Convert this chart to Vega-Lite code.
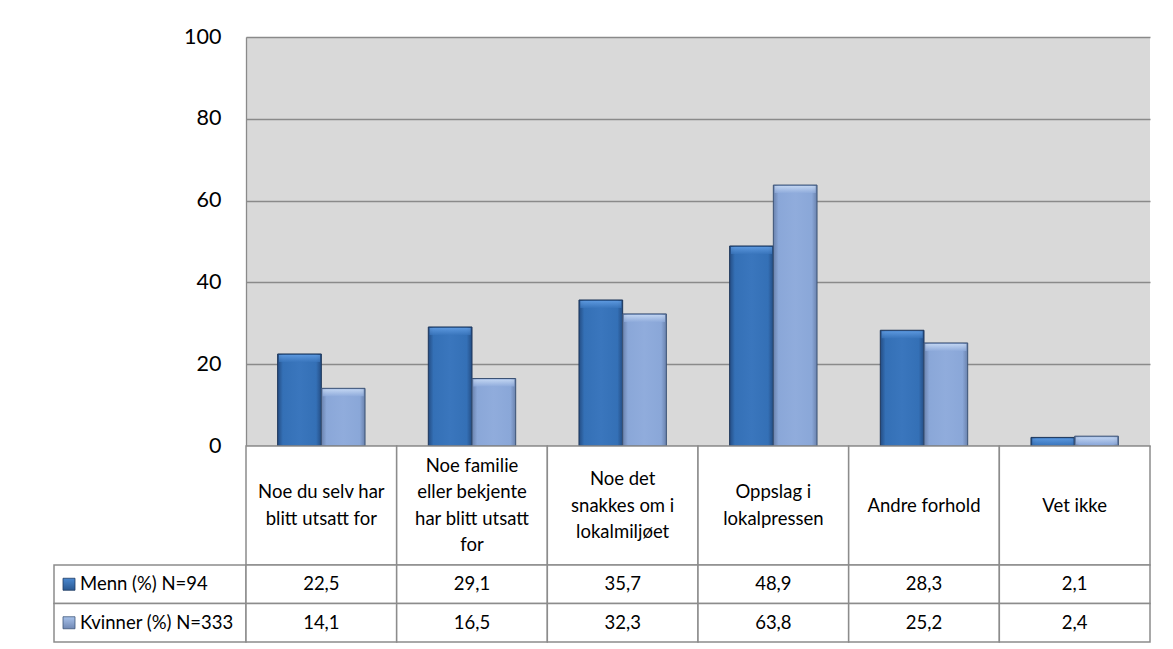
{
  "$schema": "https://vega.github.io/schema/vega-lite/v6.json",
  "background": "white",
  "padding": {"left": 53, "top": 26, "right": 0, "bottom": 0},
  "config": {
    "locale": {"number": {"decimal": ",", "thousands": " ", "grouping": [3], "currency": ["", " kr"]}},
    "font": "Lato",
    "view": {"stroke": null},
    "text": {"font": "Lato", "color": "#000000"}
  },
  "datasets": {
    "main": [
      {"cat": "Noe du selv har blitt utsatt for", "label": "Noe du selv har\nblitt utsatt for", "gender": "Menn", "value": 22.5},
      {"cat": "Noe du selv har blitt utsatt for", "label": "Noe du selv har\nblitt utsatt for", "gender": "Kvinner", "value": 14.1},
      {"cat": "Noe familie eller bekjente har blitt utsatt for", "label": "Noe familie\neller bekjente\nhar blitt utsatt\nfor", "gender": "Menn", "value": 29.1},
      {"cat": "Noe familie eller bekjente har blitt utsatt for", "label": "Noe familie\neller bekjente\nhar blitt utsatt\nfor", "gender": "Kvinner", "value": 16.5},
      {"cat": "Noe det snakkes om i lokalmiljøet", "label": "Noe det\nsnakkes om i\nlokalmiljøet", "gender": "Menn", "value": 35.7},
      {"cat": "Noe det snakkes om i lokalmiljøet", "label": "Noe det\nsnakkes om i\nlokalmiljøet", "gender": "Kvinner", "value": 32.3},
      {"cat": "Oppslag i lokalpressen", "label": "Oppslag i\nlokalpressen", "gender": "Menn", "value": 48.9},
      {"cat": "Oppslag i lokalpressen", "label": "Oppslag i\nlokalpressen", "gender": "Kvinner", "value": 63.8},
      {"cat": "Andre forhold", "label": "Andre forhold", "gender": "Menn", "value": 28.3},
      {"cat": "Andre forhold", "label": "Andre forhold", "gender": "Kvinner", "value": 25.2},
      {"cat": "Vet ikke", "label": "Vet ikke", "gender": "Menn", "value": 2.1},
      {"cat": "Vet ikke", "label": "Vet ikke", "gender": "Kvinner", "value": 2.4}
    ],
    "series": [
      {"gender": "Menn", "series": "Menn (%) N=94"},
      {"gender": "Kvinner", "series": "Kvinner (%) N=333"}
    ]
  },
  "columns": 2,
  "spacing": 0,
  "bounds": "flush",
  "concat": [
    {
      "width": 192, "height": 409,
      "data": {"values": [{}]},
      "mark": {"type": "point", "opacity": 0}
    },
    {
      "width": 904, "height": 409,
      "view": {"fill": "#d9d9d9", "stroke": null},
      "data": {"name": "main"},
      "encoding": {
        "x": {"field": "cat", "type": "nominal", "sort": null, "axis": null, "scale": {"paddingInner": 0.42, "paddingOuter": 0.21}},
        "xOffset": {"field": "gender", "type": "nominal", "sort": ["Menn", "Kvinner"], "scale": {"paddingInner": 0, "paddingOuter": 0}},
        "y": {"field": "value", "type": "quantitative", "scale": {"domain": [0, 100]},
          "axis": {"values": [0, 20, 40, 60, 80, 100], "title": null, "grid": true, "gridColor": "#8a8a8a", "gridWidth": 1.3, "ticks": false, "domain": true, "domainColor": "#8a8a8a", "domainWidth": 1.3, "labelFontSize": 21.5, "labelColor": "#000000", "labelPadding": 25, "labelFont": "Lato"}}
      },
      "layer": [
        {
          "transform": [{"filter": "datum.gender === 'Menn'"}],
          "mark": {"type": "bar", "stroke": "#1c355a", "strokeWidth": 1,
            "color": {"gradient": "linear", "x1": 0, "y1": 0, "x2": 1, "y2": 0, "stops": [{"offset": 0, "color": "#244d84"}, {"offset": 0.12, "color": "#3470b6"}, {"offset": 0.5, "color": "#3a76bd"}, {"offset": 0.88, "color": "#3470b6"}, {"offset": 1, "color": "#244d84"}]}}
        },
        {
          "transform": [{"filter": "datum.gender === 'Kvinner'"}],
          "mark": {"type": "bar", "stroke": "#3b5275", "strokeWidth": 1,
            "color": {"gradient": "linear", "x1": 0, "y1": 0, "x2": 1, "y2": 0, "stops": [{"offset": 0, "color": "#6a82ad"}, {"offset": 0.12, "color": "#8aa7d8"}, {"offset": 0.5, "color": "#90acdc"}, {"offset": 0.88, "color": "#8aa7d8"}, {"offset": 1, "color": "#6a82ad"}]}}
        },
        {
          "transform": [{"filter": "datum.gender === 'Menn'"}],
          "mark": {"type": "tick", "orient": "horizontal", "thickness": 7, "size": 41, "yOffset": 4.5,
            "color": {"gradient": "linear", "x1": 0, "y1": 0, "x2": 0, "y2": 1, "stops": [{"offset": 0, "color": "#6aa6ec"}, {"offset": 1, "color": "#3a76bd"}]}}
        },
        {
          "transform": [{"filter": "datum.gender === 'Kvinner'"}],
          "mark": {"type": "tick", "orient": "horizontal", "thickness": 7, "size": 41, "yOffset": 4.5,
            "color": {"gradient": "linear", "x1": 0, "y1": 0, "x2": 0, "y2": 1, "stops": [{"offset": 0, "color": "#d6e6fb"}, {"offset": 1, "color": "#90acdc"}]}}
        }
      ]
    },
    {
      "width": 192, "height": 119,
      "data": {"values": [{}]},
      "mark": {"type": "point", "opacity": 0}
    },
    {
      "width": 904, "height": 119,
      "data": {"name": "main"},
      "transform": [{"filter": "datum.gender === 'Menn'"}],
      "encoding": {
        "x": {"field": "cat", "type": "nominal", "sort": null, "axis": null, "scale": {"paddingInner": 0, "paddingOuter": 0}}
      },
      "layer": [
        {"mark": {"type": "rect", "fill": "white", "stroke": "#8c8c8c", "strokeWidth": 1.5}},
        {"mark": {"type": "text", "fontSize": 18.5, "lineBreak": "\n", "lineHeight": 26.5, "baseline": "middle", "align": "center",
           "dy": {"expr": "-13.25 * (length(split(datum.label, '\\n')) - 1)"}},
         "encoding": {"text": {"field": "label"}}}
      ]
    },
    {
      "width": 192, "height": 77,
      "data": {"name": "series"},
      "encoding": {
        "y": {"field": "gender", "type": "nominal", "sort": ["Menn", "Kvinner"], "axis": null, "scale": {"paddingInner": 0, "paddingOuter": 0}}
      },
      "layer": [
        {"mark": {"type": "rect", "fill": "white", "stroke": "#8c8c8c", "strokeWidth": 1.5}},
        {
          "transform": [{"filter": "datum.gender === 'Menn'"}],
          "mark": {"type": "square", "size": 144, "opacity": 1, "xOffset": 15, "stroke": "#1f3b63", "strokeWidth": 0.8,
            "color": {"gradient": "linear", "x1": 0, "y1": 0, "x2": 0, "y2": 1, "stops": [{"offset": 0, "color": "#4a88d0"}, {"offset": 1, "color": "#2a5891"}]}},
          "encoding": {"x": {"datum": 0, "type": "quantitative", "scale": {"domain": [0, 1]}, "axis": null}}
        },
        {
          "transform": [{"filter": "datum.gender === 'Kvinner'"}],
          "mark": {"type": "square", "size": 144, "opacity": 1, "xOffset": 15, "stroke": "#3e5578", "strokeWidth": 0.8,
            "color": {"gradient": "linear", "x1": 0, "y1": 0, "x2": 0, "y2": 1, "stops": [{"offset": 0, "color": "#a8c2ea"}, {"offset": 1, "color": "#7088b4"}]}},
          "encoding": {"x": {"datum": 0, "type": "quantitative", "scale": {"domain": [0, 1]}, "axis": null}}
        },
        {
          "mark": {"type": "text", "fontSize": 18.5, "align": "left", "baseline": "middle", "dx": 26},
          "encoding": {"x": {"datum": 0, "type": "quantitative", "scale": {"domain": [0, 1]}, "axis": null}, "text": {"field": "series"}}
        }
      ]
    },
    {
      "width": 904, "height": 77,
      "data": {"name": "main"},
      "encoding": {
        "x": {"field": "cat", "type": "nominal", "sort": null, "axis": null, "scale": {"paddingInner": 0, "paddingOuter": 0}},
        "y": {"field": "gender", "type": "nominal", "sort": ["Menn", "Kvinner"], "axis": null, "scale": {"paddingInner": 0, "paddingOuter": 0}}
      },
      "layer": [
        {"mark": {"type": "rect", "fill": "white", "stroke": "#8c8c8c", "strokeWidth": 1.5}},
        {"mark": {"type": "text", "fontSize": 18.5, "baseline": "middle", "align": "center"},
         "encoding": {"text": {"field": "value", "type": "quantitative", "format": ".1f"}}}
      ]
    }
  ]
}
